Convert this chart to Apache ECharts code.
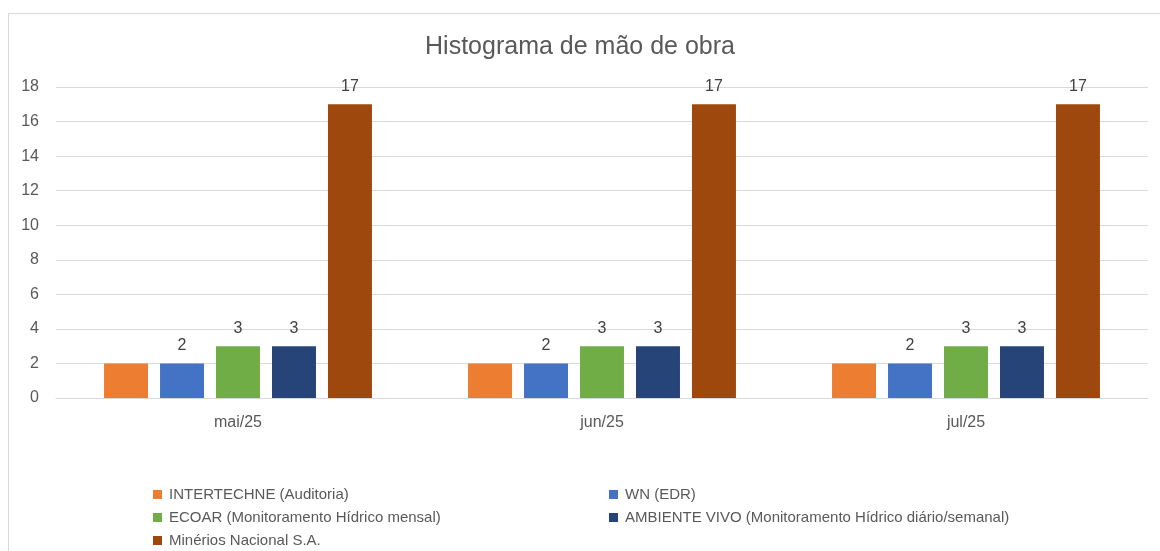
<!DOCTYPE html>
<html><head><meta charset="utf-8">
<script src="https://cdn.jsdelivr.net/npm/echarts@6/dist/echarts.min.js"></script>
<style>
html,body{margin:0;padding:0;background:#fff;overflow:hidden;}
#frame{position:absolute;left:8px;top:13px;width:1200px;height:600px;border-left:1.5px solid #d9d9d9;border-top:1.5px solid #d9d9d9;}
#chart{position:absolute;left:0;top:0;width:1160px;height:551px;}
</style></head>
<body>
<div id="frame"></div>
<div id="chart"></div>
<script>
const categories = ['mai/25', 'jun/25', 'jul/25'];
const seriesNames = [
  'INTERTECHNE (Auditoria)',
  'WN (EDR)',
  'ECOAR (Monitoramento Hídrico mensal)',
  'AMBIENTE VIVO (Monitoramento Hídrico diário/semanal)',
  'Minérios Nacional S.A.'
];
const intertechne = [2, 2, 2];
const wn = [2, 2, 2];
const ecoar = [3, 3, 3];
const ambienteVivo = [3, 3, 3];
const minerios = [17, 17, 17];
const yTicks = [0, 2, 4, 6, 8, 10, 12, 14, 16, 18];

const colors = ['#ED7D31', '#4472C4', '#70AD47', '#264478', '#9E480E'];
const values = [intertechne, wn, ecoar, ambienteVivo, minerios];
const showLabel = [false, true, true, true, true];
const FONT = 'Liberation Sans';

const legendBase = {
  orient: 'vertical', top: 487, height: 120, padding: 0,
  itemWidth: 9, itemHeight: 9, itemGap: 8, icon: 'rect',
  textStyle: {fontFamily: FONT, fontSize: 15, color: '#595959', padding: [0, 0, 0, 2]}
};

const chart = echarts.init(document.getElementById('chart'));
chart.setOption({
  animation: false,
  textStyle: {fontFamily: FONT},
  title: {
    text: 'Histograma de mão de obra',
    left: 'center', top: 30,
    textStyle: {fontFamily: FONT, fontSize: 25, fontWeight: 'normal', color: '#595959'}
  },
  legend: [
    Object.assign({}, legendBase, {left: 153, data: [seriesNames[0], seriesNames[2], seriesNames[4]]}),
    Object.assign({}, legendBase, {left: 609, data: [seriesNames[1], seriesNames[3]]})
  ],
  grid: {left: 56, right: 12, top: 87, bottom: 153, containLabel: false},
  xAxis: {
    type: 'category', data: categories,
    axisLine: {lineStyle: {color: '#d9d9d9', width: 1}},
    axisTick: {show: false},
    axisLabel: {fontFamily: FONT, fontSize: 16, color: '#595959', margin: 17}
  },
  yAxis: {
    type: 'value', min: yTicks[0], max: yTicks[yTicks.length - 1], interval: 2,
    axisLine: {show: false}, axisTick: {show: false},
    splitLine: {lineStyle: {color: '#d9d9d9', width: 1}},
    axisLabel: {fontFamily: FONT, fontSize: 16, color: '#595959', margin: 17}
  },
  series: seriesNames.map((name, i) => ({
    name, type: 'bar', data: values[i],
    barGap: '27.3%', barCategoryGap: '26.4%',
    itemStyle: {color: colors[i]},
    label: {show: showLabel[i], position: 'top', distance: 10, fontFamily: FONT, fontSize: 16, color: '#404040'}
  }))
});
</script>
</body></html>
